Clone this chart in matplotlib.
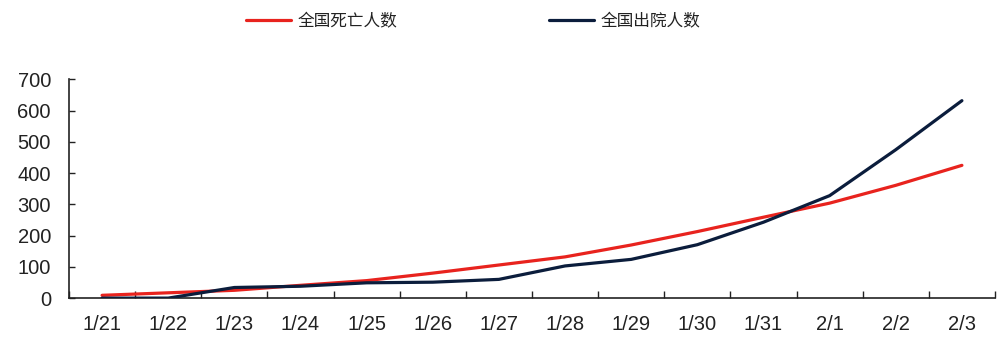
import matplotlib
matplotlib.use("Agg")
import matplotlib.pyplot as plt
import numpy as np

plt.rcParams['font.family'] = ['Liberation Sans', 'Noto Sans CJK SC', 'DejaVu Sans']

dates = ["1/21", "1/22", "1/23", "1/24", "1/25", "1/26", "1/27",
         "1/28", "1/29", "1/30", "1/31", "2/1", "2/2", "2/3"]
deaths = [9, 17, 25, 41, 56, 80, 106, 132, 170, 213, 259, 304, 361, 425]
discharged = [0, 0, 34, 38, 49, 51, 60, 103, 124, 171, 243, 328, 475, 632]
yticks = [0, 100, 200, 300, 400, 500, 600, 700]

red = "#E8231E"
navy = "#0B1D3C"

fig = plt.figure(figsize=(10.03, 3.38), dpi=100)
ax = fig.add_axes([0.0688, 0.118, 0.9232, 0.647])

x = np.arange(len(dates))
ax.plot(x, deaths, color=red, lw=2.3, solid_capstyle='round', label="全国死亡人数", zorder=2)
ax.plot(x, discharged, color=navy, lw=2.3, solid_capstyle='round', label="全国出院人数", zorder=3)

ax.set_xlim(-0.5, len(dates) - 0.5)
ax.set_ylim(0, 700)
ax.set_yticks(yticks)
ax.set_yticklabels([str(v) for v in yticks], fontsize=14.5, color="#222222")

# category labels centred in bins, tick marks on the bin boundaries
ax.set_xticks(np.arange(-0.5, len(dates), 1.0))
ax.set_xticklabels([])
ax.set_xticks(x, minor=True)
ax.set_xticklabels(dates, minor=True, fontsize=14.5, color="#222222")
ax.tick_params(axis='x', which='major', direction='in', length=5, width=1, color="#222222")
ax.tick_params(axis='x', which='minor', length=0, pad=12)
ax.tick_params(axis='y', direction='in', length=4, width=1, color="#222222", pad=13)

for s in ['top', 'right']:
    ax.spines[s].set_visible(False)
for s in ['left', 'bottom']:
    ax.spines[s].set_linewidth(1.2)
    ax.spines[s].set_color("#222222")

leg = fig.legend(loc='upper center', bbox_to_anchor=(0.472, 1.005), ncol=2, frameon=False,
                 handlelength=2.7, handletextpad=0.4, columnspacing=9.1,
                 prop={'family': ['Noto Sans CJK SC', 'DejaVu Sans'], 'size': 12})
for t in leg.get_texts():
    t.set_color("#222222")

fig.savefig("out.png", dpi=100)
